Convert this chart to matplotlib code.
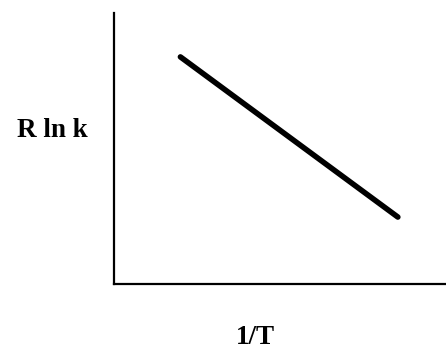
import matplotlib
matplotlib.use("Agg")
import matplotlib.pyplot as plt

# Arrhenius-style plot: R ln k against 1/T
inv_T = [0.20, 0.855]
R_ln_k = [0.838, 0.247]

W, H = 446, 352
fig = plt.figure(figsize=(W / 100, H / 100), dpi=100)
ax = fig.add_axes([114 / W, 1 - 284 / H, 1 - 114 / W, 271 / H])

ax.plot(inv_T, R_ln_k, color="black", linewidth=4.0, solid_capstyle="round")

ax.set_xlim(0, 1)
ax.set_ylim(0, 1)
ax.set_xticks([])
ax.set_yticks([])
for side in ("top", "right"):
    ax.spines[side].set_visible(False)
for side in ("left", "bottom"):
    ax.spines[side].set_linewidth(1.6)

font = dict(family="Liberation Serif", fontweight="bold", fontsize=19.5, color="black")
fig.text(52 / W, 1 - 130 / H, "R ln k", ha="center", va="center", **font)
fig.text(255 / W, 1 - 337 / H, "1/T", ha="center", va="center", **font)

fig.savefig("out.png", dpi=100, facecolor="white")
